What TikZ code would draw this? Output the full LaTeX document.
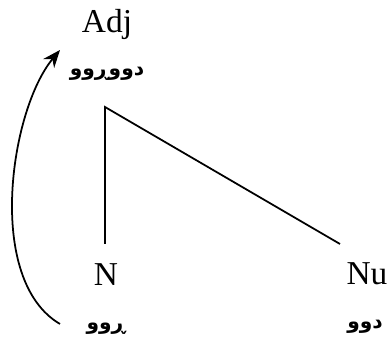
\documentclass[tikz,border=0pt]{standalone}
\usepackage{fontspec}
\setmainfont{Liberation Serif}
\newfontfamily\arabicfont[Script=Arabic]{DejaVu Sans}
\TeXXeTstate=1
\usetikzlibrary{arrows.meta,positioning}

\begin{document}
\begin{tikzpicture}[x=0.02cm, y=-0.02cm,
      cat/.style={inner sep=2pt, font=\fontsize{19}{22}\selectfont},
      kur/.style={inner sep=2pt, font=\fontsize{11.5}{14}\selectfont\arabicfont\bfseries},
      branch/.style={line width=1pt},
      move/.style={-{Stealth[length=10pt, width=8pt]}, line width=1pt}
    ]
    \useasboundingbox (0,0) rectangle (387,347);
    % mother node
    \node[cat] (adj) at (107,24) {Adj};
    \node[kur] (adjk) at (107,74) {\beginR دووڕوو\endR};
    \coordinate (top) at (105,107);
    % daughters
    \node[cat] (n) at (106,275) {N};
    \node[kur] (nk) at (106,329) {\beginR ڕوو\endR};
    \node[cat] (nu) at (367,274) {Nu};
    \node[kur] (nuk) at (365,327) {\beginR دوو\endR};
    \coordinate (nend) at (105,244);
    \coordinate (nuend) at (340,244);
    \draw[branch] (nend) -- (top) -- (nuend);
    % movement of the noun
    \coordinate (mvfrom) at (60,324);
    \coordinate (mvto) at (60,50);
    \draw[move] (mvfrom) .. controls (-15,280) and (10,110) .. (mvto);
  \end{tikzpicture}
\end{document}
